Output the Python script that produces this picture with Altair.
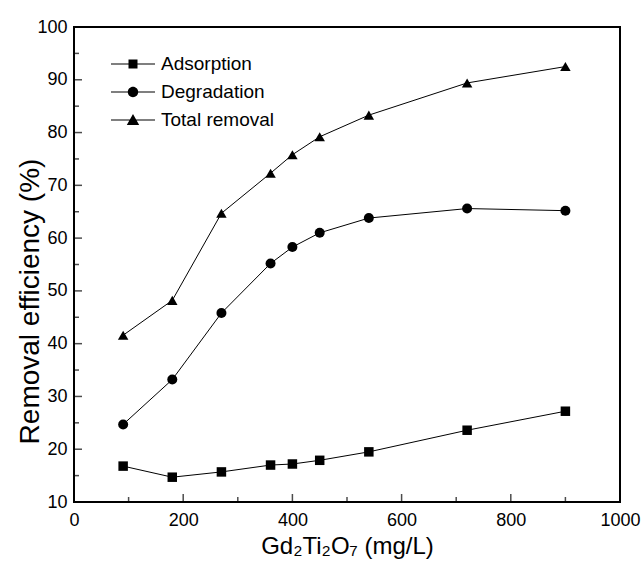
import altair as alt
import pandas as pd

# ---- data ----
dose = [90, 180, 270, 360, 400, 450, 540, 720, 900]
adsorption = [16.8, 14.7, 15.7, 17.0, 17.2, 17.9, 19.5, 23.6, 27.2]
degradation = [24.7, 33.2, 45.8, 55.2, 58.3, 61.0, 63.8, 65.6, 65.2]
total = [41.6, 48.2, 64.7, 72.3, 75.8, 79.2, 83.3, 89.4, 92.5]

series_names = ["Adsorption", "Degradation", "Total removal"]
marker_shapes = ["square", "circle", "triangle-up"]
marker_sizes = [90, 110, 160]

x_major = [0, 200, 400, 600, 800, 1000]
x_minor = [100, 300, 500, 700, 900]
y_major = [10, 20, 30, 40, 50, 60, 70, 80, 90, 100]
y_minor = [15, 25, 35, 45, 55, 65, 75, 85, 95]

rows = []
for name, vals in zip(series_names, [adsorption, degradation, total]):
    for d, v in zip(dose, vals):
        rows.append({"dose": d, "value": v, "series": name})
df = pd.DataFrame(rows)

FONT = "Liberation Sans, Arial, sans-serif"

xs = alt.Scale(domain=[0, 1000], nice=False, zero=False)
ys = alt.Scale(domain=[10, 100], nice=False, zero=False)

x_enc = alt.X("dose:Q", scale=xs,
              axis=alt.Axis(values=x_major, format="d", title="Gd₂Ti₂O₇ (mg/L)",
                            ticks=False, domain=False, grid=False,
                            labelFont=FONT, labelFontSize=18, labelPadding=9,
                            labelColor="black", labelFlush=False,
                            titleFont=FONT, titleFontSize=24, titleFontWeight="normal",
                            titleColor="black", titlePadding=5))
y_enc = alt.Y("value:Q", scale=ys,
              axis=alt.Axis(values=y_major, format="d", title="Removal efficiency (%)",
                            ticks=False, domain=False, grid=False,
                            labelFont=FONT, labelFontSize=18, labelPadding=7,
                            labelColor="black", labelFlush=False,
                            titleFont=FONT, titleFontSize=28, titleFontWeight="normal",
                            titleColor="black", titleX=-44, titleY=274,
                            titleAlign="center", titleBaseline="middle", titleAngle=270))

base = alt.Chart(df)

lines = base.mark_line(color="black", strokeWidth=1).encode(
    x=x_enc, y=y_enc, detail="series:N")

points = base.mark_point(filled=True, color="black", opacity=1).encode(
    x="dose:Q", y="value:Q",
    shape=alt.Shape("series:N", scale=alt.Scale(domain=series_names, range=marker_shapes), legend=None),
    size=alt.Size("series:N", scale=alt.Scale(domain=series_names, range=marker_sizes), legend=None),
)

# legend symbols: a line with the marker on it (custom paths, scale 10 px per unit)
leg_paths = [
    "M-2.2,-0.06H2.2V0.06H-2.2Z M-0.45,-0.45H0.45V0.45H-0.45Z",
    "M-2.2,-0.06H2.2V0.06H-2.2Z M-0.52,0A0.52,0.52 0 1,1 0.52,0A0.52,0.52 0 1,1 -0.52,0Z",
    "M-2.2,-0.06H2.2V0.06H-2.2Z M0,-0.6L0.62,0.5L-0.62,0.5Z",
]
legend_layer = base.mark_point(filled=True, color="black", size=400, opacity=1).encode(
    x="dose:Q", y="value:Q",
    shape=alt.Shape("series:N", scale=alt.Scale(domain=series_names, range=leg_paths),
                    legend=alt.Legend(title=None, orient="none", legendX=49, legendY=27,
                                      labelFont=FONT, labelFontSize=19, labelColor="black",
                                      labelOffset=18, rowPadding=8, padding=0,
                                      symbolSize=400, symbolFillColor="black",
                                      symbolStrokeColor="black", symbolStrokeWidth=0,
                                      symbolOpacity=1)),
).transform_filter("datum.dose < 0")

# inward axis ticks
tx_major = alt.Chart(pd.DataFrame({"t": x_major, "b": [10] * len(x_major)})).mark_tick(
    orient="vertical", color="black", thickness=1.5, size=8, yOffset=-4).encode(
    x=alt.X("t:Q", scale=xs), y=alt.Y("b:Q", scale=ys))
tx_minor = alt.Chart(pd.DataFrame({"t": x_minor, "b": [10] * len(x_minor)})).mark_tick(
    orient="vertical", color="black", thickness=1.5, size=5, yOffset=-2.5).encode(
    x=alt.X("t:Q", scale=xs), y=alt.Y("b:Q", scale=ys))
ty_major = alt.Chart(pd.DataFrame({"t": y_major, "b": [0] * len(y_major)})).mark_tick(
    orient="horizontal", color="black", thickness=1.5, size=8, xOffset=4).encode(
    y=alt.Y("t:Q", scale=ys), x=alt.X("b:Q", scale=xs))
ty_minor = alt.Chart(pd.DataFrame({"t": y_minor, "b": [0] * len(y_minor)})).mark_tick(
    orient="horizontal", color="black", thickness=1.5, size=5, xOffset=2.5).encode(
    y=alt.Y("t:Q", scale=ys), x=alt.X("b:Q", scale=xs))

chart = alt.layer(lines, points, legend_layer, tx_major, tx_minor, ty_major, ty_minor).resolve_scale(
    shape="independent", size="independent"
).properties(
    width=546, height=475,
    autosize=alt.AutoSizeParams(type="none"),
    padding={"left": 74, "top": 27, "right": 22, "bottom": 66},
    background="white",
).configure_view(stroke="black", strokeWidth=2)

chart.save("out.html", embed_options={"renderer": "svg", "actions": False})
